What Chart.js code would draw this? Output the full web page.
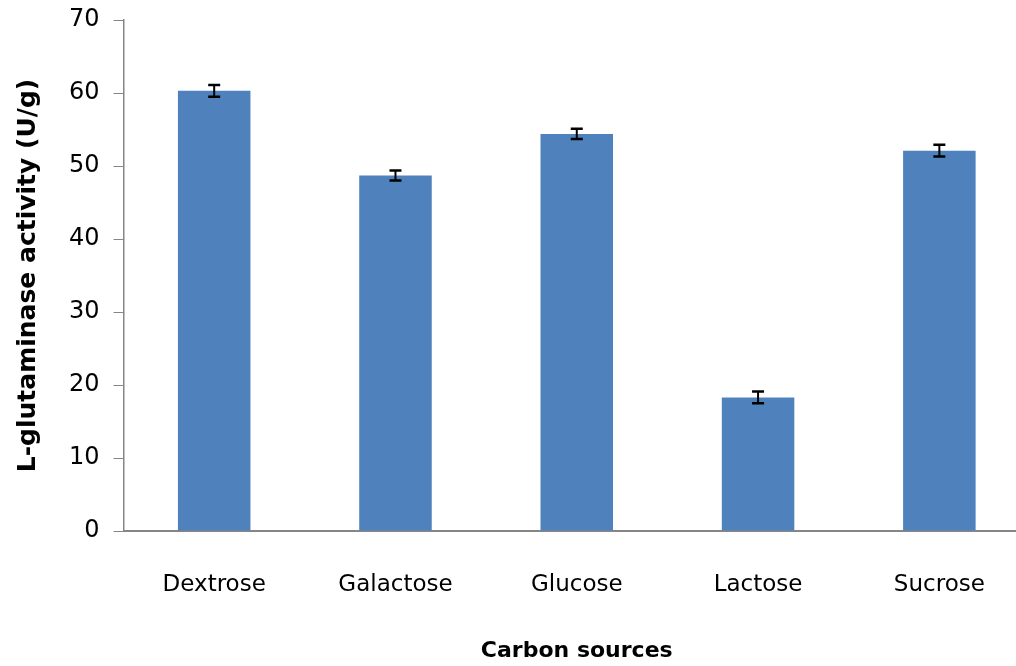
<!DOCTYPE html>
<html>
<head>
<meta charset="utf-8">
<script src="https://cdn.jsdelivr.net/npm/chart.js@4"></script>
<style>
  html, body { margin: 0; padding: 0; background: #fff; overflow: hidden; }
  #wrap { width: 1030px; height: 676px; margin-top: -10px; }
</style>
</head>
<body>
<div id="wrap"><canvas id="carbonChart" width="1030" height="676"></canvas></div>
<script>
const categories = ['Dextrose', 'Galactose', 'Glucose', 'Lactose', 'Sucrose'];
const activity = [60.3, 48.7, 54.4, 18.3, 52.1];
const errors = [0.8, 0.7, 0.7, 0.8, 0.8];

const errorBars = {
    id: 'errorBars',
    afterDatasetsDraw(chart) {
        const ctx = chart.ctx;
        const y = chart.scales.y;
        const meta = chart.getDatasetMeta(0);
        ctx.save();
        ctx.strokeStyle = '#000';
        meta.data.forEach((bar, i) => {
            const top = y.getPixelForValue(activity[i] + errors[i]);
            const bottom = y.getPixelForValue(activity[i] - errors[i]);
            ctx.lineWidth = 2;
            ctx.beginPath();
            ctx.moveTo(bar.x, top);
            ctx.lineTo(bar.x, bottom);
            ctx.stroke();
            ctx.lineWidth = 2.5;
            ctx.beginPath();
            ctx.moveTo(bar.x - 6, top);
            ctx.lineTo(bar.x + 6, top);
            ctx.moveTo(bar.x - 6, bottom);
            ctx.lineTo(bar.x + 6, bottom);
            ctx.stroke();
        });
        ctx.restore();
    }
};

const ctx = document.getElementById('carbonChart').getContext('2d');
new Chart(ctx, {
    type: 'bar',
    data: {
        labels: categories,
        datasets: [{
            data: activity,
            backgroundColor: '#4F81BD',
            barPercentage: 0.4,
            categoryPercentage: 1.0
        }]
    },
    options: {
        responsive: false,
        animation: false,
        layout: { padding: { top: 30, left: 13, right: 0, bottom: 2 } },
        plugins: {
            legend: { display: false },
            tooltip: { enabled: false }
        },
        scales: {
            x: {
                grid: { display: false },
                border: { display: true, color: '#868686', width: 2 },
                ticks: { color: '#000', font: { family: 'DejaVu Sans', size: 23 }, padding: 32 },
                title: {
                    display: true,
                    text: 'Carbon sources',
                    color: '#000',
                    font: { family: 'DejaVu Sans', size: 22, weight: 'bold' },
                    padding: { top: 7, bottom: 0 }
                }
            },
            y: {
                min: 0,
                max: 70,
                ticks: { stepSize: 10, color: '#000', font: { family: 'DejaVu Sans', size: 24 }, padding: 14 },
                grid: { drawOnChartArea: false, drawTicks: true, tickLength: 10, color: '#868686' },
                border: { display: true, color: '#868686', width: 1.5 },
                title: {
                    display: true,
                    text: 'L-glutaminase activity (U/g)',
                    color: '#000',
                    font: { family: 'DejaVu Sans', size: 25, weight: 'bold' },
                    padding: { top: 0, bottom: 12 }
                }
            }
        }
    },
    plugins: [errorBars]
});
</script>
</body>
</html>
